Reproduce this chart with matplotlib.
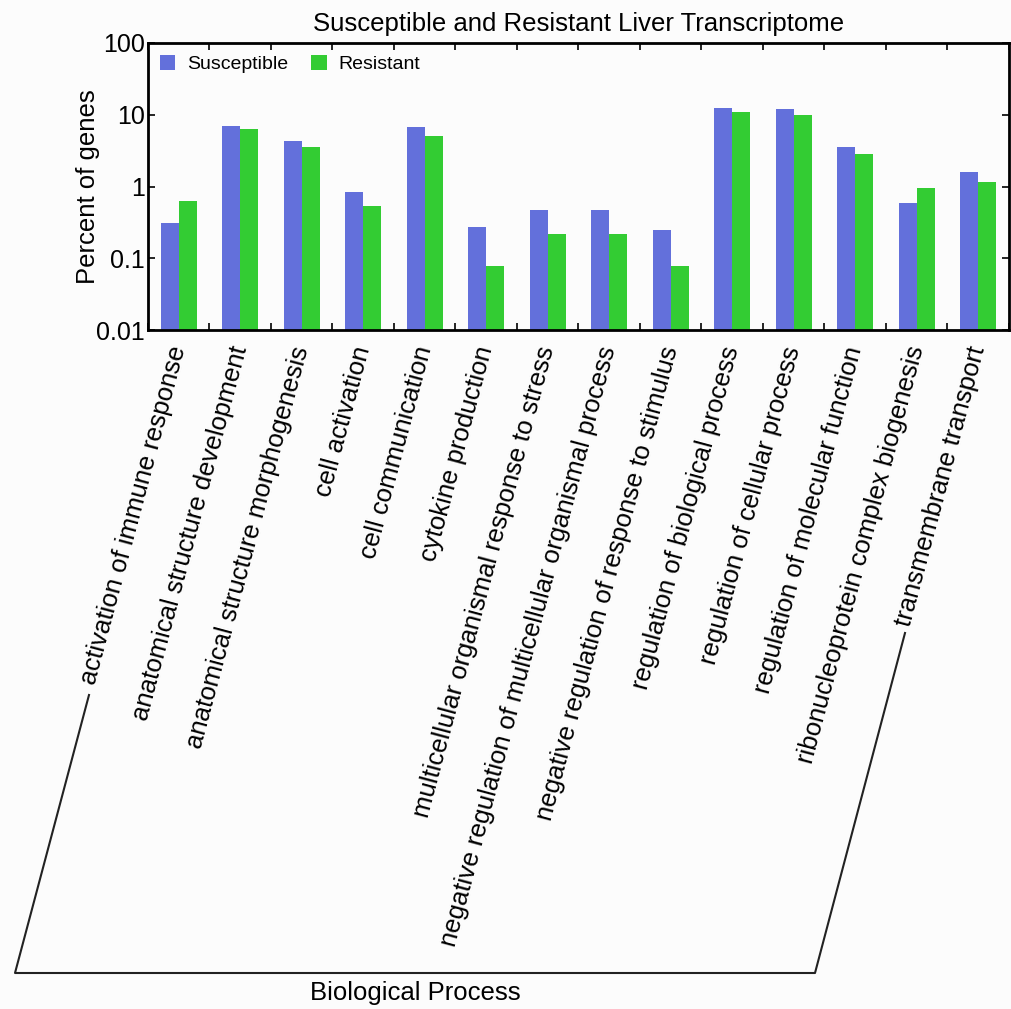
import numpy as np
import matplotlib
matplotlib.use("Agg")
import matplotlib.pyplot as plt
from matplotlib.lines import Line2D

plt.rcParams['font.family'] = ['Liberation Sans', 'DejaVu Sans']

categories = [
    "activation of immune response",
    "anatomical structure development",
    "anatomical structure morphogenesis",
    "cell activation",
    "cell communication",
    "cytokine production",
    "multicellular organismal response to stress",
    "negative regulation of multicellular organismal process",
    "negative regulation of response to stimulus",
    "regulation of biological process",
    "regulation of cellular process",
    "regulation of molecular function",
    "ribonucleoprotein complex biogenesis",
    "transmembrane transport",
]
susceptible = [0.31, 7.0, 4.3, 0.85, 6.8, 0.27, 0.47, 0.47, 0.25, 12.5, 11.9, 3.55, 0.58, 1.6]
resistant = [0.63, 6.3, 3.5, 0.53, 5.1, 0.078, 0.22, 0.22, 0.078, 10.9, 9.8, 2.8, 0.95, 1.17]
y_ticks = [0.01, 0.1, 1, 10, 100]
y_ticklabels = ["0.01", "0.1", "1", "10", "100"]

W, H = 1012, 1009
fig = plt.figure(figsize=(W / 100, H / 100), dpi=100, facecolor="#fcfcfc")
ax = fig.add_axes([148 / W, 1 - 330 / H, (1009 - 148) / W, (330 - 43) / H])
ax.set_facecolor("#fcfcfc")

x = np.arange(len(categories))
bw = 0.29
ax.bar(x - bw / 2, susceptible, bw, color="#6370db", label="Susceptible", bottom=0.001)
ax.bar(x + bw / 2, resistant, bw, color="#33cc33", label="Resistant", bottom=0.001)

ax.set_yscale("log")
ax.set_ylim(0.01, 100)
ax.set_xlim(-0.5, len(categories) - 0.5)
ax.set_yticks(y_ticks)
ax.set_yticklabels(y_ticklabels, fontsize=18)
ax.yaxis.set_minor_locator(matplotlib.ticker.NullLocator())

# category boundaries get the ticks, centres get the labels
ax.set_xticks(np.arange(len(categories) + 1) - 0.5)
ax.set_xticklabels([])
ax.set_xticks(x, minor=True)
ax.set_xticklabels(categories, minor=True, rotation=75, ha="right", va="center",
                   rotation_mode="anchor", fontsize=18.5)
ax.tick_params(axis="x", which="minor", length=0, pad=12)
ax.tick_params(axis="both", which="major", direction="in", length=5, width=1.2,
               top=True, right=True)
ax.tick_params(axis="y", pad=2)
for sp in ax.spines.values():
    sp.set_linewidth(2)

ax.set_ylabel("Percent of genes", fontsize=18.5)
ax.yaxis.set_label_coords(-0.056, 0.5)
ax.set_title("Susceptible and Resistant Liver Transcriptome", fontsize=18.5, pad=9)

ax.legend(loc="upper left", ncol=2, frameon=False, fontsize=14, handlelength=0.8,
          handleheight=0.8, handletextpad=0.6, columnspacing=1.2,
          borderaxespad=0.2, bbox_to_anchor=(0.0, 1.0))

# bracket grouping all categories under one GO branch
def fpt(px, py):
    return px / W, 1 - py / H

pts = [fpt(89, 695), fpt(15, 973), fpt(815, 973), fpt(905, 633)]
fig.add_artist(Line2D([p[0] for p in pts], [p[1] for p in pts],
                      transform=fig.transFigure, color="#222222", lw=1.5))
fig.text(415 / W, 1 - 993 / H, "Biological Process", ha="center", va="center", fontsize=18.5)

fig.savefig("out.png", dpi=100, facecolor=fig.get_facecolor())
